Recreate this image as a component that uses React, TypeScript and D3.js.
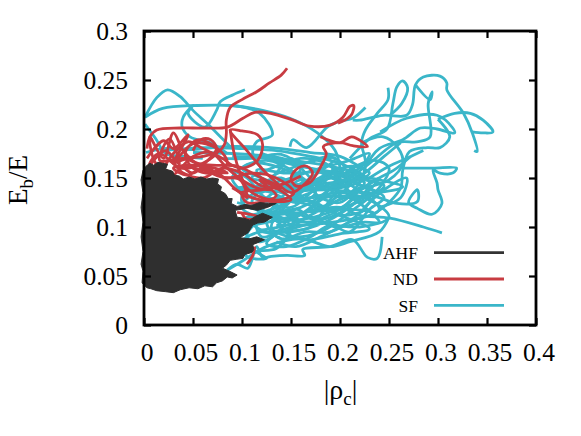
import React, { useEffect, useRef } from "react";
import * as d3 from "d3";

type Pt = [number, number];

const xTicks = [0, 0.05, 0.1, 0.15, 0.2, 0.25, 0.3, 0.35, 0.4];
const yTicks = [0, 0.05, 0.1, 0.15, 0.2, 0.25, 0.3];

// AHF runs are so dense they read as one blob, so this is the outline of it
const ahfOutline: Pt[] = [
  [-0.002, 0.043], [-0.001, 0.055], [-0.003, 0.062], [-0.001, 0.075], [-0.003, 0.09], [-0.001, 0.105], [-0.003, 0.12], [-0.001, 0.135], [-0.003, 0.148], [-0.001, 0.158],
  [0.002, 0.162], [0.006, 0.165], [0.01, 0.163], [0.014, 0.166], [0.019, 0.165], [0.024, 0.164], [0.022, 0.159], [0.029, 0.157], [0.031, 0.153], [0.036, 0.152],
  [0.04, 0.149], [0.046, 0.151], [0.052, 0.149], [0.058, 0.151], [0.064, 0.149], [0.07, 0.15], [0.076, 0.149], [0.075, 0.144], [0.079, 0.141], [0.078, 0.137],
  [0.083, 0.134], [0.086, 0.129], [0.09, 0.129], [0.089, 0.124], [0.095, 0.121], [0.103, 0.123], [0.11, 0.122], [0.118, 0.125], [0.127, 0.124], [0.135, 0.124], [0.126, 0.12], [0.116, 0.117],
  [0.105, 0.119], [0.093, 0.117], [0.095, 0.11], [0.102, 0.109], [0.108, 0.107], [0.114, 0.111], [0.121, 0.114], [0.131, 0.11], [0.123, 0.105], [0.116, 0.104], [0.111, 0.102],
  [0.108, 0.097], [0.106, 0.094], [0.101, 0.091], [0.098, 0.089], [0.108, 0.088], [0.115, 0.09], [0.123, 0.087], [0.116, 0.084], [0.111, 0.082], [0.112, 0.077], [0.11, 0.074],
  [0.103, 0.072], [0.101, 0.068], [0.094, 0.067], [0.088, 0.066], [0.084, 0.061], [0.08, 0.058], [0.087, 0.055], [0.095, 0.051], [0.09, 0.048], [0.085, 0.049], [0.08, 0.045], [0.074, 0.043],
  [0.07, 0.039], [0.062, 0.04], [0.055, 0.037], [0.046, 0.038], [0.037, 0.036], [0.03, 0.033], [0.022, 0.034], [0.013, 0.035], [0.007, 0.037], [0.003, 0.038],
];

const ndPaths: Pt[][] = [
  [[0.146, 0.262], [0.14, 0.255], [0.128, 0.247], [0.115, 0.238], [0.1, 0.23], [0.088, 0.222], [0.084, 0.209], [0.084, 0.195], [0.082, 0.184], [0.076, 0.177], [0.06, 0.172], [0.045, 0.17], [0.03, 0.165]],
  [[0.003, 0.18], [0.006, 0.192], [0.013, 0.199], [0.037, 0.201], [0.06, 0.201], [0.085, 0.202], [0.101, 0.211], [0.113, 0.217], [0.129, 0.216], [0.152, 0.209], [0.169, 0.203], [0.19, 0.204], [0.203, 0.212], [0.21, 0.223], [0.214, 0.224], [0.212, 0.215], [0.205, 0.209], [0.198, 0.206]],
  [[0.18, 0.192], [0.2, 0.186], [0.212, 0.192], [0.228, 0.182], [0.213, 0.183], [0.2, 0.186], [0.183, 0.182], [0.186, 0.175], [0.18, 0.161], [0.169, 0.145], [0.155, 0.142], [0.15, 0.15], [0.157, 0.16], [0.166, 0.162], [0.172, 0.155], [0.165, 0.145], [0.15, 0.135], [0.13, 0.15], [0.12, 0.16], [0.105, 0.178], [0.088, 0.199], [0.1, 0.198], [0.116, 0.194], [0.121, 0.184], [0.116, 0.168], [0.101, 0.16], [0.09, 0.163], [0.08, 0.17], [0.06, 0.18], [0.045, 0.187], [0.03, 0.175], [0.02, 0.16]],
  [[0.088, 0.199], [0.092, 0.175], [0.098, 0.155], [0.105, 0.14], [0.12, 0.13], [0.14, 0.128], [0.153, 0.135], [0.135, 0.15], [0.11, 0.155], [0.085, 0.15], [0.06, 0.16], [0.04, 0.178], [0.03, 0.196], [0.02, 0.17], [0.006, 0.192], [0.012, 0.165], [0.03, 0.155]],
  [[0.003, 0.17], [0.02, 0.188], [0.03, 0.18], [0.045, 0.194], [0.03, 0.165], [0.05, 0.185], [0.075, 0.18], [0.085, 0.165], [0.07, 0.155], [0.05, 0.16], [0.042, 0.175], [0.055, 0.189], [0.075, 0.178], [0.06, 0.165], [0.038, 0.16], [0.015, 0.175], [0.005, 0.16], [0.025, 0.15], [0.05, 0.172], [0.068, 0.176], [0.085, 0.16], [0.1, 0.148], [0.115, 0.14], [0.13, 0.138]],
  [[0.05, 0.178], [0.058, 0.189], [0.068, 0.189], [0.074, 0.18], [0.062, 0.165], [0.05, 0.155], [0.04, 0.162], [0.065, 0.157], [0.085, 0.155], [0.072, 0.16], [0.05, 0.163], [0.03, 0.16], [0.044, 0.153], [0.06, 0.16], [0.078, 0.153], [0.092, 0.14], [0.105, 0.13], [0.098, 0.148], [0.08, 0.15]],
  [[0.002, 0.155], [0.01, 0.168], [0.022, 0.178], [0.036, 0.164], [0.026, 0.19], [0.016, 0.168], [0.04, 0.17], [0.055, 0.165], [0.07, 0.163], [0.095, 0.162], [0.12, 0.15], [0.14, 0.14], [0.12, 0.142], [0.1, 0.155], [0.08, 0.16], [0.06, 0.15], [0.04, 0.155], [0.025, 0.168], [0.008, 0.158]],
  [[0.09, 0.14], [0.11, 0.13], [0.13, 0.126], [0.15, 0.128], [0.135, 0.14], [0.118, 0.148], [0.135, 0.132], [0.105, 0.125], [0.1, 0.135], [0.12, 0.138], [0.145, 0.145], [0.16, 0.152]],
  [[0.113, 0.08], [0.111, 0.071], [0.105, 0.062]],
  [[0.095, 0.115], [0.108, 0.113], [0.118, 0.11], [0.105, 0.108], [0.1, 0.114]],
];

const sfPaths: Pt[][] = [
  [[0.001, 0.212], [0.013, 0.232], [0.024, 0.24], [0.037, 0.233], [0.05, 0.219], [0.065, 0.205], [0.08, 0.19], [0.09, 0.18]],
  [[0.001, 0.212], [0.019, 0.221], [0.054, 0.224], [0.088, 0.224], [0.121, 0.219], [0.149, 0.211], [0.177, 0.196], [0.195, 0.178], [0.2, 0.16]],
  [[0.103, 0.24], [0.091, 0.235], [0.078, 0.228], [0.074, 0.219], [0.062, 0.202], [0.045, 0.216], [0.05, 0.224], [0.04, 0.212], [0.039, 0.202], [0.047, 0.192], [0.07, 0.185], [0.085, 0.175]],
  [[0.09, 0.224], [0.118, 0.216], [0.131, 0.194], [0.115, 0.187], [0.111, 0.175], [0.12, 0.16]],
  [[0.001, 0.205], [0.012, 0.19], [0.022, 0.175], [0.04, 0.172], [0.06, 0.17]],
  [[0.002, 0.176], [0.02, 0.18], [0.05, 0.179], [0.08, 0.182], [0.11, 0.182], [0.14, 0.18], [0.17, 0.176], [0.2, 0.172], [0.222, 0.16]],
  [[0.149, 0.182], [0.152, 0.189], [0.166, 0.181], [0.187, 0.202], [0.2, 0.208], [0.213, 0.211], [0.226, 0.222]],
  [[0.213, 0.209], [0.22, 0.209], [0.244, 0.214], [0.268, 0.214], [0.274, 0.225], [0.277, 0.245], [0.285, 0.253], [0.302, 0.254], [0.309, 0.247], [0.309, 0.24], [0.326, 0.216], [0.335, 0.196], [0.34, 0.177], [0.337, 0.178]],
  [[0.249, 0.242], [0.249, 0.23], [0.238, 0.216], [0.226, 0.199], [0.222, 0.186], [0.226, 0.165], [0.22, 0.145], [0.205, 0.13]],
  [[0.251, 0.214], [0.263, 0.226], [0.269, 0.242], [0.264, 0.249], [0.258, 0.243], [0.254, 0.226], [0.248, 0.2], [0.23, 0.19], [0.21, 0.17]],
  [[0.277, 0.245], [0.292, 0.23], [0.294, 0.238], [0.29, 0.226], [0.292, 0.192], [0.28, 0.187], [0.258, 0.186], [0.234, 0.168], [0.21, 0.15], [0.19, 0.14]],
  [[0.222, 0.186], [0.244, 0.192], [0.259, 0.181], [0.264, 0.165], [0.25, 0.148], [0.225, 0.14]],
  [[0.241, 0.197], [0.268, 0.211], [0.299, 0.214], [0.315, 0.201], [0.317, 0.196], [0.299, 0.2], [0.282, 0.201], [0.264, 0.189], [0.24, 0.18], [0.225, 0.16]],
  [[0.3, 0.21], [0.312, 0.192], [0.302, 0.181], [0.289, 0.181], [0.271, 0.177], [0.264, 0.158], [0.262, 0.14], [0.25, 0.125], [0.23, 0.11]],
  [[0.3, 0.21], [0.317, 0.216], [0.333, 0.216], [0.346, 0.209], [0.356, 0.197], [0.346, 0.196], [0.335, 0.197]],
  [[0.264, 0.16], [0.295, 0.16], [0.319, 0.16], [0.315, 0.155], [0.302, 0.155], [0.295, 0.158], [0.299, 0.145], [0.3, 0.138], [0.304, 0.124], [0.294, 0.113], [0.279, 0.119], [0.27, 0.125], [0.279, 0.138], [0.279, 0.126], [0.258, 0.124], [0.24, 0.13], [0.22, 0.135]],
  [[0.304, 0.094], [0.285, 0.1], [0.251, 0.109], [0.22, 0.112], [0.2, 0.12], [0.18, 0.118]],
  [[0.243, 0.09], [0.238, 0.068], [0.228, 0.069], [0.213, 0.087], [0.19, 0.08], [0.162, 0.077], [0.164, 0.071], [0.146, 0.071], [0.13, 0.07], [0.121, 0.069], [0.115, 0.08], [0.106, 0.058], [0.095, 0.062], [0.085, 0.056], [0.1, 0.065], [0.125, 0.08], [0.16, 0.088], [0.19, 0.08], [0.21, 0.085], [0.24, 0.095], [0.25, 0.11]],
  [[0.02, 0.178], [0.06, 0.181], [0.1, 0.18], [0.135, 0.178], [0.17, 0.172], [0.2, 0.165], [0.225, 0.15], [0.2, 0.14], [0.17, 0.145], [0.14, 0.16], [0.11, 0.165], [0.09, 0.15], [0.11, 0.13], [0.14, 0.125], [0.17, 0.13], [0.2, 0.135], [0.235, 0.125], [0.25, 0.11], [0.22, 0.1], [0.18, 0.105], [0.15, 0.115], [0.12, 0.11], [0.1, 0.12], [0.12, 0.14], [0.15, 0.15], [0.18, 0.16], [0.21, 0.168], [0.23, 0.175], [0.22, 0.16], [0.19, 0.15], [0.16, 0.135], [0.13, 0.1], [0.15, 0.09], [0.18, 0.095], [0.21, 0.115], [0.24, 0.14], [0.25, 0.16], [0.235, 0.168], [0.205, 0.155], [0.17, 0.12], [0.14, 0.105], [0.115, 0.12]],
  [[0.05, 0.176], [0.09, 0.175], [0.13, 0.172], [0.165, 0.166], [0.19, 0.172], [0.205, 0.16], [0.18, 0.15], [0.15, 0.14], [0.12, 0.15], [0.1, 0.16], [0.125, 0.168], [0.155, 0.155], [0.175, 0.135], [0.155, 0.125], [0.13, 0.135], [0.105, 0.14], [0.1, 0.125], [0.125, 0.115], [0.16, 0.105], [0.19, 0.11], [0.215, 0.125], [0.23, 0.145], [0.215, 0.155], [0.19, 0.128], [0.17, 0.1], [0.14, 0.095], [0.12, 0.09], [0.115, 0.105], [0.14, 0.12], [0.165, 0.14], [0.195, 0.15], [0.215, 0.14], [0.24, 0.118], [0.21, 0.105], [0.18, 0.09], [0.155, 0.08], [0.135, 0.085]],
  [[0.075, 0.17], [0.11, 0.17], [0.14, 0.174], [0.16, 0.16], [0.145, 0.145], [0.12, 0.122], [0.135, 0.108], [0.165, 0.115], [0.185, 0.13], [0.21, 0.13], [0.225, 0.118], [0.2, 0.112], [0.175, 0.125], [0.15, 0.13], [0.13, 0.145], [0.11, 0.15], [0.13, 0.16], [0.16, 0.17], [0.185, 0.165], [0.2, 0.15], [0.185, 0.135], [0.16, 0.12], [0.135, 0.115], [0.11, 0.105], [0.125, 0.095], [0.15, 0.1], [0.17, 0.11], [0.195, 0.1], [0.225, 0.105], [0.24, 0.105], [0.22, 0.125], [0.2, 0.145], [0.17, 0.16], [0.145, 0.168], [0.12, 0.175]],
  [[0.085, 0.16], [0.105, 0.15], [0.125, 0.128], [0.15, 0.12], [0.175, 0.14], [0.19, 0.155], [0.215, 0.145], [0.235, 0.135], [0.215, 0.11], [0.19, 0.095], [0.165, 0.095], [0.14, 0.088], [0.125, 0.105], [0.145, 0.135], [0.17, 0.15], [0.195, 0.17], [0.175, 0.168], [0.15, 0.16], [0.13, 0.15], [0.14, 0.135], [0.16, 0.148], [0.18, 0.13], [0.2, 0.125], [0.22, 0.14], [0.205, 0.122], [0.18, 0.112], [0.155, 0.108], [0.13, 0.125], [0.115, 0.14], [0.14, 0.15], [0.165, 0.128], [0.19, 0.118], [0.225, 0.128]],
  // long nearly straight sweeps through the dense band
  [[0.09, 0.172], [0.14, 0.169], [0.19, 0.162], [0.225, 0.152], [0.19, 0.145], [0.14, 0.143], [0.095, 0.14], [0.135, 0.136], [0.185, 0.138], [0.235, 0.135], [0.264, 0.141], [0.24, 0.148], [0.2, 0.155], [0.155, 0.163], [0.105, 0.175]],
  [[0.1, 0.1], [0.14, 0.108], [0.18, 0.12], [0.215, 0.135], [0.24, 0.15], [0.22, 0.128], [0.185, 0.105], [0.15, 0.095], [0.118, 0.096], [0.15, 0.103], [0.19, 0.123], [0.225, 0.145], [0.205, 0.148], [0.165, 0.133], [0.13, 0.118], [0.105, 0.11], [0.14, 0.113], [0.175, 0.116], [0.212, 0.118], [0.235, 0.114], [0.2, 0.106], [0.165, 0.102], [0.135, 0.102]],
  [[0.12, 0.13], [0.155, 0.128], [0.19, 0.132], [0.225, 0.13], [0.245, 0.142], [0.215, 0.15], [0.18, 0.156], [0.145, 0.155], [0.115, 0.158], [0.13, 0.142], [0.16, 0.14], [0.2, 0.142], [0.23, 0.155], [0.212, 0.162], [0.175, 0.148], [0.15, 0.13], [0.17, 0.122], [0.205, 0.11], [0.23, 0.098], [0.2, 0.093], [0.165, 0.087], [0.145, 0.095], [0.17, 0.104], [0.2, 0.118], [0.218, 0.133]],
  [[0.1, 0.147], [0.12, 0.135], [0.135, 0.155], [0.15, 0.17], [0.165, 0.155], [0.18, 0.142], [0.195, 0.16], [0.21, 0.145], [0.19, 0.125], [0.175, 0.108], [0.155, 0.118], [0.14, 0.098], [0.125, 0.083], [0.145, 0.08], [0.17, 0.09], [0.19, 0.102], [0.21, 0.095], [0.23, 0.118], [0.245, 0.13], [0.225, 0.14], [0.2, 0.13], [0.18, 0.148], [0.16, 0.14], [0.145, 0.125], [0.125, 0.14], [0.11, 0.125], [0.125, 0.11]],
  // next to the blob, and the fan opening to the right
  [[0.095, 0.125], [0.115, 0.118], [0.14, 0.1], [0.12, 0.085], [0.105, 0.09], [0.11, 0.1], [0.13, 0.112], [0.15, 0.1], [0.135, 0.078], [0.115, 0.075], [0.125, 0.068], [0.105, 0.07], [0.1, 0.085], [0.12, 0.095], [0.14, 0.088]],
  [[0.23, 0.15], [0.25, 0.162], [0.268, 0.17], [0.285, 0.178]],
  [[0.2, 0.14], [0.225, 0.155], [0.245, 0.172], [0.262, 0.186]],
  [[0.21, 0.13], [0.24, 0.15], [0.255, 0.158], [0.272, 0.172]],
  [[0.225, 0.12], [0.245, 0.138], [0.268, 0.15], [0.262, 0.13], [0.24, 0.12]],
];

const legendItems = [
  { label: "AHF", color: "#333333" },
  { label: "ND", color: "#c83c42" },
  { label: "SF", color: "#3ab6c9" },
];

const fmt = (d: any) => String(+d);

export default function App() {
  const ref = useRef<SVGSVGElement>(null);

  useEffect(() => {
    const svg = d3.select(ref.current);
    svg.selectAll("*").remove();

    const x = d3.scaleLinear().domain([0, 0.4]).range([144, 536]);
    const y = d3.scaleLinear().domain([0, 0.3]).range([325, 31]);
    const line = d3.line<Pt>().x((d) => x(d[0])).y((d) => y(d[1])).curve(d3.curveCatmullRom.alpha(0.5));

    // Curves first, black blob goes over the top of them
    svg.append("g")
      .selectAll("path")
      .data(sfPaths)
      .join("path")
      .attr("d", (d) => line(d))
      .attr("fill", "none")
      .attr("stroke", "#3ab6c9")
      .attr("stroke-width", 2.8);

    svg.append("g")
      .selectAll("path")
      .data(ndPaths)
      .join("path")
      .attr("d", (d) => line(d))
      .attr("fill", "none")
      .attr("stroke", "#c83c42")
      .attr("stroke-width", 2.8);

    svg.append("path")
      .attr("d", d3.line<Pt>().x((d) => x(d[0])).y((d) => y(d[1]))(ahfOutline) + "Z")
      .attr("fill", "#2f2f2f")
      .attr("stroke", "#2f2f2f");

    // Axes, ticks point inwards on all four sides
    const fontFamily = "'Liberation Serif', serif";
    const styleAxis = (g: any) => {
      g.selectAll(".domain").remove();
      g.selectAll("line").attr("stroke", "#000").attr("stroke-width", 2.2);
      g.selectAll("text").attr("font-family", fontFamily).attr("font-size", 25.5).attr("fill", "#000");
    };

    svg.append("g")
      .attr("transform", "translate(0,325)")
      .call(d3.axisBottom(x).tickValues(xTicks).tickSizeInner(-7).tickPadding(18).tickFormat(fmt))
      .call(styleAxis)
      .call((g: any) => g.selectAll("text").attr("dx", 2.5));
    svg.append("g")
      .attr("transform", "translate(0,31)")
      .call(d3.axisTop(x).tickValues(xTicks).tickSizeInner(-7).tickFormat(() => ""))
      .call(styleAxis);
    svg.append("g")
      .attr("transform", "translate(144,0)")
      .call(d3.axisLeft(y).tickValues(yTicks).tickSizeInner(-7).tickPadding(16).tickFormat(fmt))
      .call(styleAxis);
    svg.append("g")
      .attr("transform", "translate(536,0)")
      .call(d3.axisRight(y).tickValues(yTicks).tickSizeInner(-7).tickFormat(() => ""))
      .call(styleAxis);

    svg.append("rect")
      .attr("x", 144).attr("y", 31).attr("width", 392).attr("height", 294)
      .attr("fill", "none").attr("stroke", "#000").attr("stroke-width", 2.8);

    // Legend
    const legend = svg.append("g")
      .selectAll("g")
      .data(legendItems)
      .join("g")
      .attr("transform", (_, i) => `translate(0,${252.7 + i * 26.3})`);
    legend.append("text")
      .attr("x", 418).attr("y", 6.3)
      .attr("text-anchor", "end")
      .attr("font-family", fontFamily).attr("font-size", 17.5)
      .text((d) => d.label);
    legend.append("line")
      .attr("x1", 434).attr("x2", 504)
      .attr("stroke", (d) => d.color).attr("stroke-width", 2.8);

    // Axis titles
    const xTitle = svg.append("text")
      .attr("x", 340.5).attr("y", 399)
      .attr("text-anchor", "middle")
      .attr("font-family", fontFamily).attr("font-size", 28);
    xTitle.append("tspan").text("|ρ");
    xTitle.append("tspan").attr("dy", 6).attr("font-size", 19).text("c");
    xTitle.append("tspan").attr("dy", -6).text("|");

    const yTitle = svg.append("text")
      .attr("transform", "translate(27,180) rotate(-90)")
      .attr("text-anchor", "middle")
      .attr("font-family", fontFamily).attr("font-size", 27);
    yTitle.append("tspan").text("E");
    yTitle.append("tspan").attr("dy", 6).attr("font-size", 19).text("b");
    yTitle.append("tspan").attr("dy", -6).text("/E");
  }, []);

  return <svg ref={ref} width={581} height={436} style={{ position: "absolute", left: 0, top: 0, background: "#fff" }} />;
}
